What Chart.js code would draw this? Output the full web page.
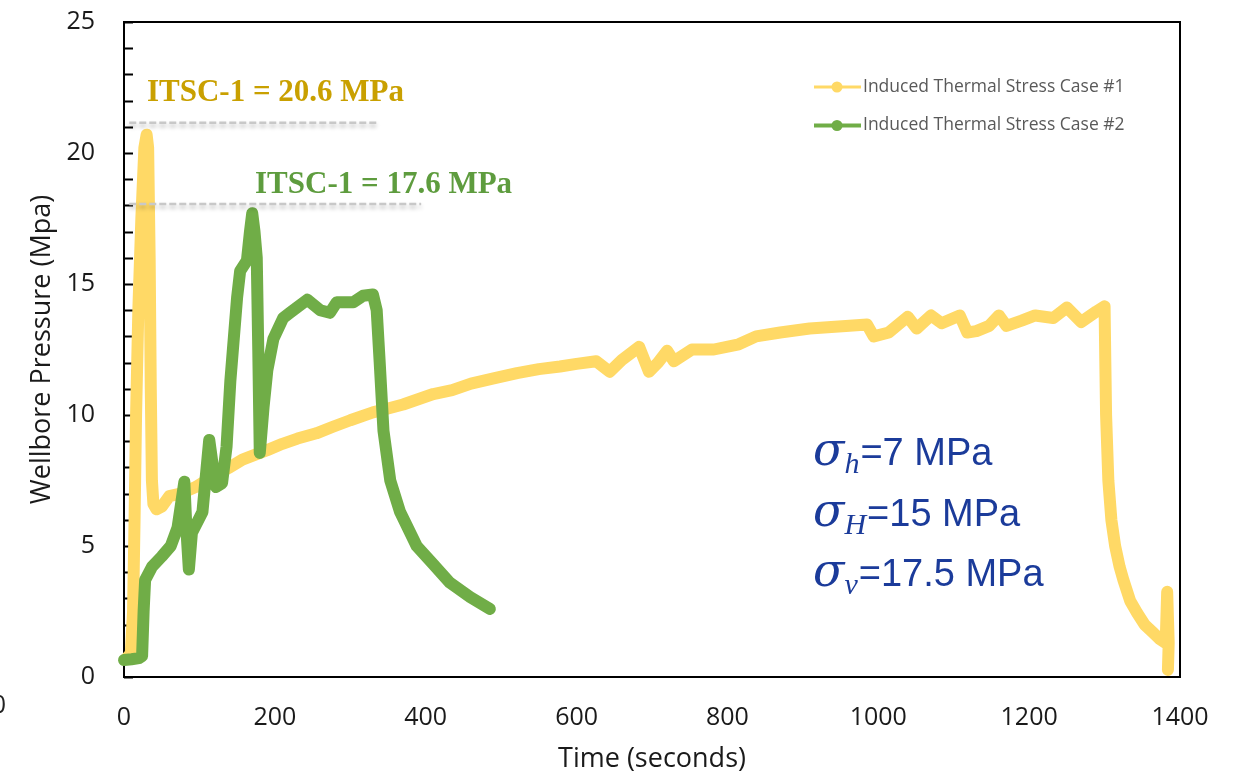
<!DOCTYPE html>
<html>
<head>
<meta charset="utf-8">
<script src="https://cdn.jsdelivr.net/npm/chart.js@4.4.1/dist/chart.umd.min.js"></script>
<style>
  html, body { margin: 0; padding: 0; background: #fff; }
  canvas { display: block; }
</style>
</head>
<body>
<canvas id="chart" width="1238" height="779"></canvas>
<script>
/* ---------- data ---------- */
const seriesLabels = ['Induced Thermal Stress Case #1', 'Induced Thermal Stress Case #2'];

// Case #1 (yellow)
const timeCase1 = [
  3, 9, 12, 14, 16, 19, 23, 27, 30, 32, 34, 35.5, 37, 39, 43, 50, 60, 75, 95, 120,
  140, 157, 175, 190, 210, 230, 255, 277, 300, 330, 350, 370, 390, 410, 435, 460, 490, 521, 550, 578,
  600, 626, 644, 660, 683, 696, 708, 720, 729, 753, 782, 815, 838, 870, 909, 957, 985, 994, 1014, 1039,
  1051, 1070, 1084, 1108, 1118, 1130, 1147, 1160, 1170, 1190, 1208, 1232, 1250, 1269, 1289, 1300, 1301, 1302, 1305, 1309,
  1314, 1320, 1325, 1334, 1343, 1353, 1364, 1373, 1381, 1383, 1385, 1384
];
const pressureCase1 = [
  0.7, 0.9, 2.5, 6, 10, 14, 17.5, 20.2, 20.7, 20.2, 16, 11, 7.5, 6.6, 6.4, 6.5, 6.9, 7.0, 7.25, 7.7,
  8.0, 8.3, 8.5, 8.66, 8.9, 9.1, 9.3, 9.55, 9.8, 10.1, 10.25, 10.4, 10.6, 10.8, 10.95, 11.2, 11.4, 11.6, 11.75, 11.85,
  11.95, 12.05, 11.65, 12.1, 12.6, 11.65, 12.0, 12.45, 12.05, 12.5, 12.5, 12.7, 13.0, 13.15, 13.3, 13.4, 13.45, 13.0, 13.15, 13.75,
  13.3, 13.8, 13.5, 13.8, 13.15, 13.2, 13.4, 13.8, 13.4, 13.6, 13.8, 13.7, 14.1, 13.55, 13.95, 14.15, 12.0, 10.0, 7.5, 6.0,
  5.0, 4.2, 3.7, 2.9, 2.45, 2.0, 1.7, 1.45, 1.3, 3.25, 1.3, 0.27
];

// Case #2 (green)
const timeCase2 = [
  0, 10, 20, 24, 26, 28, 37, 50, 62, 71, 80, 83, 86, 90, 104, 113, 118, 122, 130, 136,
  141, 150, 154, 163, 167, 170, 173, 176, 178, 180, 185, 190, 198, 211, 220, 243, 260, 273, 282, 304,
  317, 330, 335, 339, 344, 353, 366, 388, 410, 432, 459, 485
];
const pressureCase2 = [
  0.65, 0.68, 0.72, 0.8, 2.5, 3.7, 4.2, 4.6, 5.0, 5.7, 7.45, 5.5, 4.1, 5.5, 6.3, 9.05, 8.0, 7.25, 7.4, 8.8,
  11.3, 14.5, 15.5, 15.9, 17.0, 17.7, 17.0, 16.0, 12.5, 8.55, 10.3, 11.7, 12.9, 13.7, 13.9, 14.4, 14.0, 13.9, 14.3, 14.3,
  14.55, 14.6, 14.0, 12.0, 9.4, 7.5, 6.3, 5.0, 4.3, 3.6, 3.05, 2.6
];

const xTickValues = [0, 200, 400, 600, 800, 1000, 1200, 1400];
const yTickLabels = [0, 5, 10, 15, 20, 25];

// peak call-outs
const peakTexts = ['ITSC-1 = 20.6 MPa', 'ITSC-1 = 17.6 MPa'];
const peakLevels = [21.15, 18.05];
const peakLineEnds = [335, 394];

// in-situ stresses box
const stressSubs = ['h', 'H', 'v'];
const stressTexts = ['=7 MPa', '=15 MPa', '=17.5 MPa'];

const COLORS = { case1: '#FFD966', case2: '#70AD47', gold: '#C9A000', green: '#5E9C3E', blue: '#1B3B9A' };
const $ = (id) => document.getElementById(id);
const toPts = (xs, ys) => xs.map((x, i) => ({ x, y: ys[i] }));

/* ---------- plugins ---------- */
// plot frame + inward minor ticks (every 1 MPa)
const framePlugin = {
  id: 'frame',
  beforeDatasetsDraw(chart) {
    const { ctx, chartArea: a, scales: { y } } = chart;
    ctx.save();
    ctx.strokeStyle = '#000';
    ctx.lineWidth = 2;
    ctx.strokeRect(a.left, a.top, a.right - a.left, a.bottom - a.top);
    ctx.beginPath();
    y.ticks.forEach((t) => {
      const py = Math.round(y.getPixelForValue(t.value)) + 0.5;
      ctx.moveTo(a.left, py);
      ctx.lineTo(a.left + 9, py);
    });
    ctx.stroke();
    // stray glyph at the left edge of the picture
    ctx.fillStyle = '#222';
    ctx.font = '25px "Open Sans"';
    ctx.textAlign = 'right';
    ctx.textBaseline = 'middle';
    ctx.fillText('0', 6, 706);
    ctx.restore();
  },
};

// dashed peak lines with labels
const peakPlugin = {
  id: 'peaks',
  afterDatasetsDraw(chart) {
    const { ctx, scales: { x, y } } = chart;
    const labelAt = [[30.5, 22.0, COLORS.gold], [173.7, 18.47, COLORS.green]];
    ctx.save();
    peakLevels.forEach((lvl, i) => {
      const py = y.getPixelForValue(lvl);
      ctx.save();
      ctx.shadowColor = 'rgba(0,0,0,0.28)';
      ctx.shadowBlur = 4;
      ctx.shadowOffsetY = 3;
      ctx.strokeStyle = '#C8C8C8';
      ctx.lineWidth = 2.5;
      ctx.setLineDash([7, 3]);
      ctx.beginPath();
      ctx.moveTo(x.getPixelForValue(7), py);
      ctx.lineTo(x.getPixelForValue(peakLineEnds[i]), py);
      ctx.stroke();
      ctx.restore();

      const [lx, ly, col] = labelAt[i];
      ctx.fillStyle = col;
      ctx.font = 'bold 31px "Liberation Serif"';
      ctx.textAlign = 'left';
      ctx.textBaseline = 'alphabetic';
      ctx.fillText(peakTexts[i], x.getPixelForValue(lx), y.getPixelForValue(ly));
    });
    ctx.restore();
  },
};

// legend (top right, inside plot) + stress text
const notesPlugin = {
  id: 'notes',
  afterDraw(chart) {
    const { ctx } = chart;
    ctx.save();
    const rows = [[87, COLORS.case1, 3], [125.5, COLORS.case2, 4]];
    rows.forEach(([cy, col, lw], i) => {
      ctx.strokeStyle = col;
      ctx.lineWidth = lw;
      ctx.beginPath();
      ctx.moveTo(814, cy);
      ctx.lineTo(861, cy);
      ctx.stroke();
      ctx.fillStyle = col;
      ctx.beginPath();
      ctx.arc(837, cy, 5.5, 0, Math.PI * 2);
      ctx.fill();
      ctx.fillStyle = '#595959';
      ctx.font = '17.5px "Open Sans"';
      ctx.textAlign = 'left';
      ctx.textBaseline = 'middle';
      ctx.fillText(seriesLabels[i], 863, cy);
    });

    const base = [465, 526, 586];
    ctx.fillStyle = COLORS.blue;
    ctx.textBaseline = 'alphabetic';
    stressSubs.forEach((sub, i) => {
      let px = 813;
      ctx.font = 'italic 46px "DejaVu Serif"';
      ctx.fillText('\u03C3', px, base[i]);
      px += ctx.measureText('\u03C3').width;
      ctx.font = 'italic 30px "Liberation Serif"';
      ctx.fillText(sub, px, base[i] + 8);
      px += ctx.measureText(sub).width + 1;
      ctx.font = '38px "Liberation Sans"';
      ctx.fillText(stressTexts[i], px, base[i]);
    });
    ctx.restore();
  },
};

/* ---------- chart ---------- */
const tickFont = { family: 'Open Sans', size: 25 };
const titleFont = { family: 'Open Sans', size: 27 };

new Chart($('chart'), {
  type: 'line',
  data: {
    datasets: [
      {
        label: seriesLabels[0],
        data: toPts(timeCase1, pressureCase1),
        borderColor: COLORS.case1,
        backgroundColor: COLORS.case1,
        borderWidth: 12,
        pointRadius: 0,
        borderJoinStyle: 'round',
        borderCapStyle: 'round',
        tension: 0,
        clip: false,
        order: 2,
      },
      {
        label: seriesLabels[1],
        data: toPts(timeCase2, pressureCase2),
        borderColor: COLORS.case2,
        backgroundColor: COLORS.case2,
        borderWidth: 12,
        pointRadius: 0,
        borderJoinStyle: 'round',
        borderCapStyle: 'round',
        tension: 0,
        clip: false,
        order: 1,
      },
    ],
  },
  options: {
    responsive: false,
    animation: false,
    layout: { padding: { top: 0, right: 58, left: 0, bottom: 0 } },
    plugins: { legend: { display: false }, tooltip: { enabled: false } },
    scales: {
      x: {
        type: 'linear',
        min: 0,
        max: 1400,
        afterBuildTicks: (s) => { s.ticks = xTickValues.map((v) => ({ value: v })); },
        afterFit: (s) => { s.height = 102; },
        grid: { display: false, drawTicks: false },
        border: { display: false },
        ticks: { font: tickFont, color: '#1a1a1a', padding: 26, maxRotation: 0, autoSkip: false, callback: (v) => String(v) },
        title: { display: true, text: 'Time (seconds)', font: titleFont, color: '#1a1a1a', padding: { top: 0, bottom: 3 } },
      },
      y: {
        type: 'linear',
        min: 0,
        max: 25,
        afterFit: (s) => { s.width = 124; s.paddingTop = 22; s.paddingBottom = 0; },
        grid: { display: false, drawTicks: false },
        border: { display: false },
        ticks: {
          stepSize: 1,
          autoSkip: false,
          font: tickFont,
          color: '#1a1a1a',
          padding: 29,
          callback: (v) => (yTickLabels.includes(v) ? String(v) : ''),
        },
        title: { display: true, text: 'Wellbore Pressure (Mpa)', font: titleFont, color: '#1a1a1a', padding: { top: 26, bottom: 0 } },
      },
    },
  },
  plugins: [framePlugin, peakPlugin, notesPlugin],
});
</script>
</body>
</html>
